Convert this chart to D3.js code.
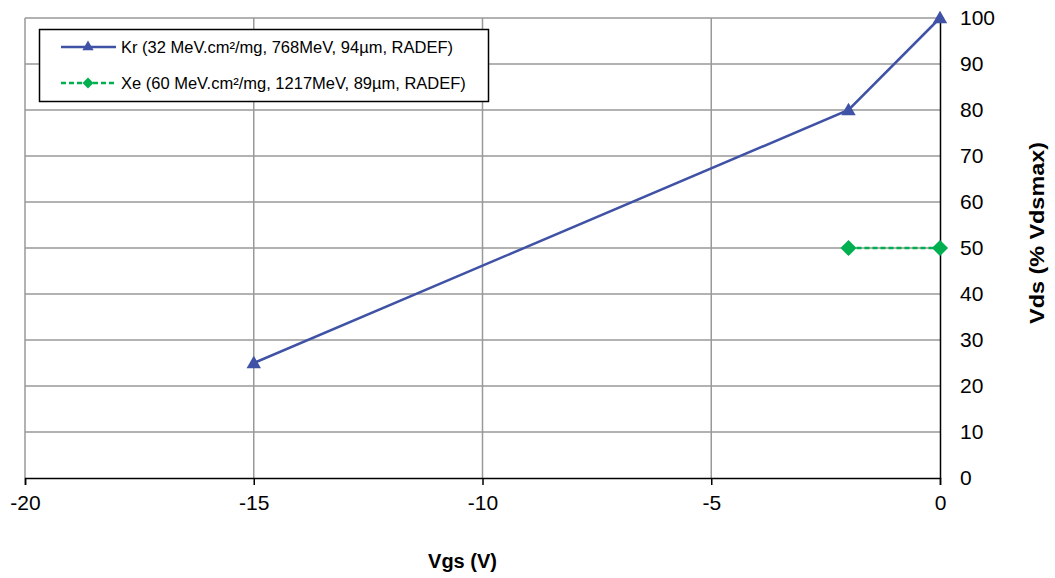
<!DOCTYPE html>
<html>
<head>
<meta charset="utf-8">
<script src="https://cdn.jsdelivr.net/npm/d3@7"></script>
<style>
  body { margin: 0; background: #fff; }
  text { font-family: "Liberation Sans", Arial, sans-serif; }
</style>
</head>
<body>
<div id="chart"></div>
<script>
var xTicks = [-20, -15, -10, -5, 0];
var yTicks = [0, 10, 20, 30, 40, 50, 60, 70, 80, 90, 100];
var krVgs = [-15, -2, 0];
var krVds = [25, 80, 100];
var xeVgs = [-2, 0];
var xeVds = [50, 50];
var seriesNames = [
    'Kr (32 MeV.cm\u00b2/mg, 768MeV, 94\u00b5m, RADEF)',
    'Xe (60 MeV.cm\u00b2/mg, 1217MeV, 89\u00b5m, RADEF)'
];

var w = 1055, h = 578;
var mLeft = 25, mRight = 940, mTop = 18, mBottom = 478;

var svg = d3.select('#chart')
    .append('svg')
    .attr('width', w)
    .attr('height', h);

var x = d3.scaleLinear().domain([-20, 0]).range([mLeft, mRight]);
var y = d3.scaleLinear().domain([0, 100]).range([mBottom, mTop]);

// grid
svg.append('g').selectAll('line')
    .data(yTicks.filter((d) => d > 0))
    .enter().append('line')
    .attr('x1', mLeft).attr('x2', mRight)
    .attr('y1', (d) => y(d)).attr('y2', (d) => y(d))
    .attr('stroke', '#999').attr('stroke-width', 1.5);
svg.append('g').selectAll('line')
    .data(xTicks.filter((d) => d < 0))
    .enter().append('line')
    .attr('x1', (d) => x(d)).attr('x2', (d) => x(d))
    .attr('y1', mTop).attr('y2', mBottom)
    .attr('stroke', '#999').attr('stroke-width', 1.5);

// x axis
var xAxis = svg.append('g')
    .attr('transform', `translate(0,${mBottom})`)
    .call(d3.axisBottom(x).tickValues(xTicks).tickSize(7).tickPadding(10)
        .tickFormat((d) => d === 0 ? '0' : '-' + Math.abs(d)));
xAxis.select('.domain').attr('stroke', '#000').attr('stroke-width', 1.5);
xAxis.selectAll('.tick line').attr('stroke', '#000').attr('stroke-width', 1.5);
xAxis.selectAll('text').attr('font-size', 21).attr('fill', '#000')
    .attr('font-family', '"Liberation Sans", Arial, sans-serif');

// y axis on right
var yAxis = svg.append('g')
    .attr('transform', `translate(${mRight},0)`)
    .call(d3.axisRight(y).tickValues(yTicks).tickSize(0).tickPadding(20));
yAxis.select('.domain').attr('stroke', '#000').attr('stroke-width', 1.5);
yAxis.selectAll('text').attr('font-size', 21).attr('fill', '#000')
    .attr('font-family', '"Liberation Sans", Arial, sans-serif');

// axis titles
svg.append('text')
    .attr('x', x(-10) - 20).attr('y', 568)
    .attr('text-anchor', 'middle')
    .attr('font-size', 20).attr('font-weight', 'bold')
    .text('Vgs (V)');
svg.append('text')
    .attr('transform', `translate(1044,233) rotate(-90) scale(1.17,1)`)
    .attr('text-anchor', 'middle')
    .attr('font-size', 20).attr('font-weight', 'bold')
    .text('Vds (% Vdsmax)');

var line = d3.line().x((d) => x(d[0])).y((d) => y(d[1]));
var kr = krVgs.map((v, i) => [v, krVds[i]]);
var xe = xeVgs.map((v, i) => [v, xeVds[i]]);
var blue = '#3F52A5', green = '#00B050';

svg.append('path').datum(kr)
    .attr('d', line).attr('fill', 'none')
    .attr('stroke', blue).attr('stroke-width', 2.5);
svg.append('path').datum(xe)
    .attr('d', line).attr('fill', 'none')
    .attr('stroke', green).attr('stroke-width', 2.5)
    .attr('stroke-dasharray', '5,3');

var tri = d3.symbol().type(d3.symbolTriangle).size(90);
var dia = d3.symbol().type(d3.symbolSquare).size(130);

svg.append('g').selectAll('path')
    .data(kr).enter().append('path')
    .attr('d', tri)
    .attr('transform', (d) => `translate(${x(d[0])},${y(d[1]) + 1})`)
    .attr('fill', blue);
svg.append('g').selectAll('path')
    .data(xe).enter().append('path')
    .attr('d', dia)
    .attr('transform', (d) => `translate(${x(d[0])},${y(d[1])}) rotate(45)`)
    .attr('fill', green);

// legend
var lg = svg.append('g');
lg.append('rect')
    .attr('x', 39.5).attr('y', 29.5).attr('width', 449).attr('height', 72)
    .attr('fill', '#fff').attr('stroke', '#000').attr('stroke-width', 1.5);
var legendItems = [
    { name: seriesNames[0], color: blue, dash: null, rot: 0, ly: 47,
      sym: d3.symbol().type(d3.symbolTriangle).size(55) },
    { name: seriesNames[1], color: green, dash: '5,3', rot: 45, ly: 83,
      sym: d3.symbol().type(d3.symbolSquare).size(60) }
];
legendItems.forEach((it) => {
    lg.append('line')
        .attr('x1', 61).attr('x2', 116).attr('y1', it.ly).attr('y2', it.ly)
        .attr('stroke', it.color).attr('stroke-width', 2.5)
        .attr('stroke-dasharray', it.dash);
    lg.append('path').attr('d', it.sym)
        .attr('transform', `translate(88,${it.ly}) rotate(${it.rot})`)
        .attr('fill', it.color);
    lg.append('text')
        .attr('x', 121).attr('y', it.ly + 6)
        .attr('font-size', 16.5).attr('fill', '#000')
        .text(it.name);
});
</script>
</body>
</html>
